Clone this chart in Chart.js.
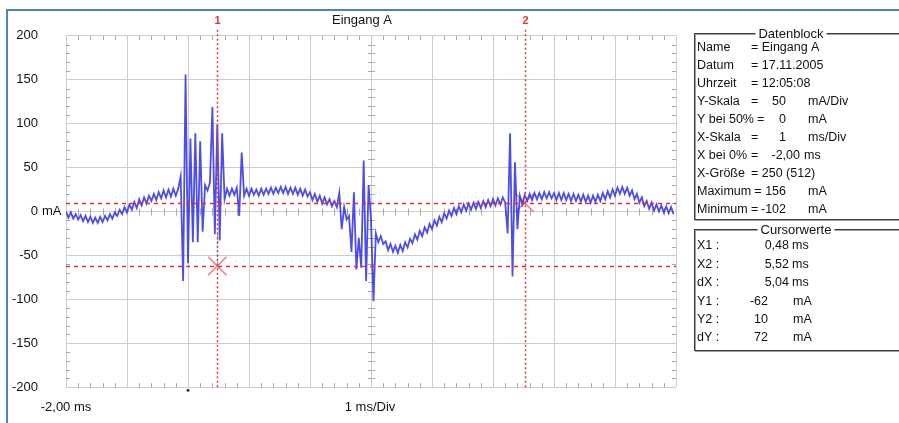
<!DOCTYPE html>
<html>
<head>
<meta charset="utf-8">
<script src="https://cdn.jsdelivr.net/npm/chart.js@4.4.1/dist/chart.umd.min.js"></script>
<style>
  body { margin: 0; background: #fff; }
  #wrap { position: relative; width: 899px; height: 423px; }
</style>
</head>
<body>
<div id="wrap"><canvas id="scope" width="899" height="423"></canvas></div>
<script>
// axis ticks
const xTicks = [-2, -1, 0, 1, 2, 3, 4, 5, 6, 7, 8];          // ms
const yTicks = [-200, -150, -100, -50, 0, 50, 100, 150, 200]; // mA

// sampling of the recorded trace
const sampleStart = -2.00; // ms
const sampleStep = 0.04;   // ms

// Eingang A, mA (one line = 1 ms)
const signalValues = [
    0, -7, -1, -8, -3, -9, -4, -11, -5, -12, -6, -13, -7, -13, -6, -12, -5, -10, -3, -8, -1, -5, 2, -3, 5,
    -1, 8, 2, 11, 4, 14, 7, 16, 9, 18, 12, 20, 13, 22, 15, 24, 16, 25, 17, 26, 18, 26, 40, -79, 156,
    -59, 83, -35, 89, -35, 80, -23, 30, 24, 33, 119, -26, 99, -33, 89, 14, 26, 18, 26, 19, 27, -5, 67, 18, 26,
    18, 26, 19, 25, 18, 26, 19, 26, 20, 27, 20, 27, 21, 28, 21, 28, 20, 27, 20, 27, 19, 26, 18, 25, 17,
    22, 13, 20, 11, 18, 9, 16, 8, 14, 6, 12, 5, 21, -20, 5, -9, -5, -46, 22, -66, -30, -64, 58, -79, 30,
    -9, -102, -25, -35, -28, -37, -34, -44, -37, -46, -39, -47, -38, -45, -35, -41, -31, -36, -26, -32, -22, -28, -18, -24, -14,
    -20, -10, -16, -6, -12, -2, -8, 1, -5, 4, -3, 6, -1, 8, 1, 9, 2, 10, 3, 11, 4, 12, 5, 13, 6,
    14, 7, 15, 8, 16, 10, -25, 89, -74, 56, -20, 18, 8, 19, 12, 20, 13, 21, 14, 21, 14, 22, 15, 22, 15,
    21, 13, 21, 13, 21, 13, 20, 12, 20, 12, 19, 11, 19, 11, 18, 10, 18, 11, 19, 12, 21, 14, 23, 16, 25,
    18, 27, 20, 28, 20, 27, 18, 24, 14, 20, 10, 16, 6, 12, 3, 10, 1, 8, 0, 7, -1, 6, -2, 5, -3
];

// cursors
const cursorX = [0.48, 5.52]; // ms
const cursorY = [-62, 10];    // mA
const cursor1Trace = -26;     // trace value under cursor 1

// Datenblock
const infoLabels = ["Name", "Datum", "Uhrzeit", "Y-Skala", "Y bei 50%", "X-Skala", "X bei 0%", "X-Größe", "Maximum", "Minimum"];
const infoValues = ["Eingang A", "17.11.2005", "12:05:08", "50", "0", "1", "-2,00", "250 (512)", "156", "-102"];
const infoUnits = ["", "", "", "mA/Div", "mA", "ms/Div", "ms", "", "mA", "mA"];

// Cursorwerte
const cursorLabels = ["X1 :", "X2 :", "dX :", "Y1 :", "Y2 :", "dY :"];
const cursorUnits = ["ms", "ms", "ms", "mA", "mA", "mA"];

const FONT = "'Liberation Sans', Arial, sans-serif";

const fmtMs = v => v.toFixed(2).replace(".", ",");
const cursorValues = [
    fmtMs(cursorX[0]), fmtMs(cursorX[1]), fmtMs(cursorX[1] - cursorX[0]),
    String(cursorY[0]), String(cursorY[1]), String(cursorY[1] - cursorY[0])
];

const tracePoints = signalValues.map((v, i) => ({ x: sampleStart + i * sampleStep, y: v }));
const cursorPoints = cursorX.map((x, i) => ({ x: x, y: cursorY[i] }));

function groupBox(ctx, x, y, w, h, title, titleX) {
    ctx.strokeStyle = "#a0a0a0";
    ctx.lineWidth = 1;
    ctx.strokeRect(x + 1.5, y + 1.5, w, h);
    ctx.strokeStyle = "#3c3c3c";
    ctx.strokeRect(x + 0.5, y + 0.5, w, h);
    ctx.font = "13px " + FONT;
    const tw = ctx.measureText(title).width;
    ctx.fillStyle = "#fff";
    ctx.fillRect(titleX - tw / 2 - 3, y - 6, tw + 6, 12);
    ctx.fillStyle = "#111";
    ctx.textAlign = "center";
    ctx.textBaseline = "middle";
    ctx.fillText(title, titleX, y + 1);
}

const scopeDecor = {
    id: "scopeDecor",
    beforeDraw(chart) {
        const ctx = chart.ctx;
        ctx.save();
        ctx.fillStyle = "#fff";
        ctx.fillRect(0, 0, chart.width, chart.height);
        // outer blue frame
        ctx.strokeStyle = "#4f81bd";
        ctx.lineWidth = 2;
        ctx.beginPath();
        ctx.moveTo(7, chart.height);
        ctx.lineTo(7, 10);
        ctx.lineTo(chart.width, 10);
        ctx.stroke();
        ctx.restore();
    },
    beforeDatasetsDraw(chart) {
        // minor ticks on the frame and on the centre cross
        const ctx = chart.ctx;
        const xs = chart.scales.x, ys = chart.scales.y;
        const a = chart.chartArea;
        const y0 = ys.getPixelForValue(0);
        const xc = xs.getPixelForValue(3);
        ctx.save();
        ctx.strokeStyle = "#a8a8a8";
        ctx.lineWidth = 1;
        ctx.beginPath();
        for (let i = 0; i < xTicks.length - 1; i++) {
            for (let k = 1; k < 5; k++) {
                const px = Math.round(xs.getPixelForValue(xTicks[i] + k * (xTicks[i + 1] - xTicks[i]) / 5)) + 0.5;
                ctx.moveTo(px, a.top); ctx.lineTo(px, a.top + 4);
                ctx.moveTo(px, a.bottom); ctx.lineTo(px, a.bottom - 4);
                ctx.moveTo(px, y0 - 3); ctx.lineTo(px, y0 + 4);
            }
        }
        for (let i = 0; i < yTicks.length - 1; i++) {
            for (let k = 1; k < 5; k++) {
                const py = Math.round(ys.getPixelForValue(yTicks[i] + k * (yTicks[i + 1] - yTicks[i]) / 5)) + 0.5;
                ctx.moveTo(a.left, py); ctx.lineTo(a.left + 4, py);
                ctx.moveTo(a.right, py); ctx.lineTo(a.right - 4, py);
                ctx.moveTo(xc - 3, py); ctx.lineTo(xc + 4, py);
            }
        }
        ctx.stroke();
        ctx.restore();
    },
    afterDatasetsDraw(chart) {
        const ctx = chart.ctx;
        const xs = chart.scales.x, ys = chart.scales.y;
        const a = chart.chartArea;
        ctx.save();
        // teal link from trace to cursor 1
        const c1 = Math.round(xs.getPixelForValue(cursorX[0])) + 0.5;
        ctx.strokeStyle = "#3fb2a8";
        ctx.lineWidth = 1.2;
        ctx.setLineDash([2, 2]);
        ctx.beginPath();
        ctx.moveTo(c1, ys.getPixelForValue(cursor1Trace));
        ctx.lineTo(c1, ys.getPixelForValue(cursorY[0]));
        ctx.stroke();
        // horizontal cursors
        cursorY.forEach(v => {
            const py = Math.round(ys.getPixelForValue(v)) + 0.5;
            ctx.strokeStyle = "#ee2a2a";
            ctx.lineWidth = 1.5;
            ctx.setLineDash([4, 4]);
            ctx.beginPath();
            ctx.moveTo(a.left, py);
            ctx.lineTo(a.right, py);
            ctx.stroke();
        });
        // vertical cursors with labels
        cursorX.forEach((v, i) => {
            const px = Math.round(xs.getPixelForValue(v)) + 0.5;
            ctx.strokeStyle = "#e63232";
            ctx.lineWidth = 1.5;
            ctx.setLineDash([2, 2.5]);
            ctx.beginPath();
            ctx.moveTo(px, a.top - 6);
            ctx.lineTo(px, a.bottom);
            ctx.stroke();
            ctx.fillStyle = "#e63232";
            ctx.font = "bold 11px " + FONT;
            ctx.textAlign = "center";
            ctx.textBaseline = "middle";
            ctx.fillText(String(i + 1), px, 21);
        });
        ctx.restore();
    },
    afterDraw(chart) {
        const ctx = chart.ctx;
        const xs = chart.scales.x, ys = chart.scales.y;
        const a = chart.chartArea;
        ctx.save();
        ctx.fillStyle = "#111";
        ctx.textBaseline = "middle";
        // title
        ctx.font = "13px " + FONT;
        ctx.textAlign = "center";
        ctx.fillText("Eingang A", 362, 20);
        // unit next to the 0 tick
        ctx.textAlign = "left";
        ctx.fillText("mA", 42, ys.getPixelForValue(0));
        // x scale text
        ctx.textAlign = "center";
        ctx.fillText("1 ms/Div", 370, a.bottom + 20);
        // trigger marker
        ctx.fillStyle = "#333";
        ctx.beginPath();
        ctx.arc(xs.getPixelForValue(0), a.bottom + 3, 1.5, 0, Math.PI * 2);
        ctx.fill();

        // Datenblock
        groupBox(ctx, 694, 33, 240, 186, "Datenblock", 791);
        ctx.font = "12.5px " + FONT;
        ctx.fillStyle = "#111";
        infoLabels.forEach((lab, i) => {
            const y = 48 + i * 18;
            ctx.textAlign = "left";
            ctx.fillText(lab, 697, y);
            const eqX = Math.max(751, 697 + ctx.measureText(lab).width + 3);
            const val = infoValues[i];
            if (!infoUnits[i]) {
                ctx.fillText("= " + val, eqX, y);
            } else {
                const wide = val.includes(",");
                ctx.fillText("=", eqX, y);
                ctx.textAlign = "right";
                ctx.fillText(val, wide ? 800 : 786, y);
                ctx.textAlign = "left";
                ctx.fillText(infoUnits[i], wide ? 804 : 808, y);
            }
        });

        // Cursorwerte
        groupBox(ctx, 694, 229, 240, 121, "Cursorwerte", 796);
        ctx.font = "12.5px " + FONT;
        ctx.fillStyle = "#111";
        cursorLabels.forEach((lab, i) => {
            const y = 246 + i * 18.4;
            ctx.textAlign = "left";
            ctx.fillText(lab, 697, y);
            const isX = cursorUnits[i] === "ms";
            ctx.textAlign = "right";
            ctx.fillText(cursorValues[i], isX ? 789 : 768, y);
            ctx.textAlign = "left";
            ctx.fillText(cursorUnits[i], isX ? 792 : 793, y);
        });
        ctx.restore();
    }
};

const chart = new Chart(document.getElementById("scope"), {
    type: "line",
    data: {
        datasets: [
            {
                label: "Eingang A",
                data: tracePoints,
                borderColor: "rgba(52, 52, 228, 0.88)",
                borderWidth: 1.8,
                pointRadius: 0,
                tension: 0,
                fill: false,
                order: 1
            },
            {
                label: "Cursor",
                type: "scatter",
                data: cursorPoints,
                pointStyle: "crossRot",
                pointRadius: 13,
                borderColor: "rgba(236, 110, 110, 0.9)",
                borderWidth: 1.5,
                backgroundColor: "transparent",
                order: 2
            }
        ]
    },
    options: {
        responsive: false,
        devicePixelRatio: 1,
        animation: false,
        layout: { padding: { top: 33, right: 223, bottom: 0, left: 0 } },
        plugins: {
            legend: { display: false },
            tooltip: { enabled: false },
            title: { display: false }
        },
        scales: {
            x: {
                type: "linear",
                min: -2,
                max: 8,
                afterBuildTicks: s => { s.ticks = xTicks.map(v => ({ value: v })); },
                afterFit: s => { s.height = 31; },
                border: { display: false },
                grid: { color: "#cccccc", lineWidth: 1, drawTicks: false },
                ticks: {
                    padding: 12,
                    maxRotation: 0,
                    autoSkip: false,
                    color: "#111",
                    font: { family: FONT, size: 13 },
                    callback: v => (v === -2 ? "-2,00 ms" : "")
                }
            },
            y: {
                min: -200,
                max: 200,
                afterBuildTicks: s => { s.ticks = yTicks.map(v => ({ value: v })); },
                afterFit: s => { s.width = 66; },
                border: { display: false },
                grid: { color: "#cccccc", lineWidth: 1, drawTicks: false },
                ticks: {
                    padding: 28,
                    autoSkip: false,
                    color: "#111",
                    font: { family: FONT, size: 13 },
                    callback: v => String(v)
                }
            }
        }
    },
    plugins: [scopeDecor]
});
</script>
</body>
</html>
